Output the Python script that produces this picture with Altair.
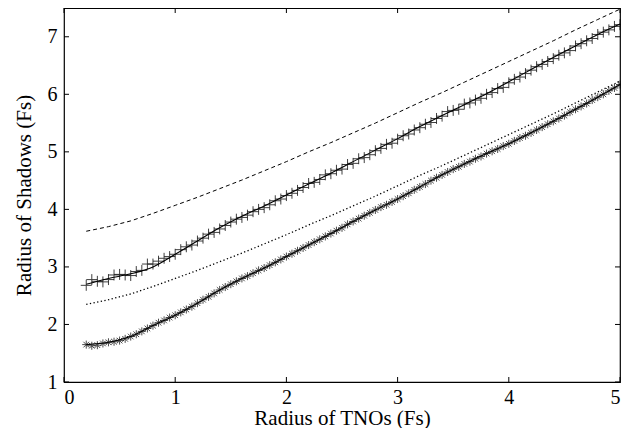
import altair as alt
import pandas as pd

# x grids (positions of the sampled radii)
x_fine = [round(0.2 + 0.05 * i, 2) for i in range(97)]
x_coarse = [round(0.2 + 0.2 * i, 1) for i in range(25)]

plus_pts = [2.68, 2.78, 2.75, 2.74, 2.78, 2.86, 2.87, 2.86, 2.85, 2.92,
            2.94, 3.05, 3.05, 3.10, 3.15, 3.18, 3.22, 3.30, 3.35, 3.38,
            3.45, 3.50, 3.57, 3.60, 3.66, 3.72, 3.78, 3.83, 3.86, 3.90,
            3.96, 4.00, 4.03, 4.08, 4.15, 4.18, 4.24, 4.28, 4.33, 4.38,
            4.45, 4.47, 4.52, 4.60, 4.62, 4.68, 4.70, 4.78, 4.80, 4.88,
            4.90, 4.95, 5.02, 5.06, 5.13, 5.15, 5.22, 5.28, 5.31, 5.38,
            5.42, 5.48, 5.51, 5.58, 5.62, 5.70, 5.72, 5.74, 5.83, 5.85,
            5.90, 5.93, 6.00, 6.03, 6.10, 6.12, 6.20, 6.26, 6.30, 6.36,
            6.42, 6.48, 6.52, 6.57, 6.62, 6.68, 6.72, 6.76, 6.84, 6.88,
            6.93, 6.97, 7.04, 7.08, 7.12, 7.18, 7.21]

star_pts = [1.65, 1.63, 1.64, 1.67, 1.69, 1.70, 1.72, 1.75, 1.79, 1.83,
            1.88, 1.93, 1.98, 2.03, 2.07, 2.12, 2.16, 2.21, 2.26, 2.31,
            2.37, 2.43, 2.48, 2.54, 2.60, 2.65, 2.70, 2.75, 2.80, 2.84,
            2.89, 2.94, 2.98, 3.03, 3.08, 3.13, 3.18, 3.23, 3.28, 3.33,
            3.38, 3.43, 3.48, 3.53, 3.58, 3.63, 3.68, 3.74, 3.79, 3.84,
            3.89, 3.94, 3.99, 4.04, 4.08, 4.13, 4.18, 4.23, 4.28, 4.34,
            4.39, 4.44, 4.50, 4.55, 4.60, 4.65, 4.70, 4.74, 4.79, 4.83,
            4.88, 4.92, 4.97, 5.01, 5.05, 5.10, 5.14, 5.19, 5.24, 5.28,
            5.33, 5.38, 5.43, 5.48, 5.53, 5.58, 5.63, 5.69, 5.74, 5.79,
            5.84, 5.90, 5.95, 6.00, 6.06, 6.11, 6.17]

plus_fit = [2.70, 2.80, 2.88, 3.00, 3.22, 3.45, 3.68, 3.88, 4.06, 4.25,
            4.44, 4.63, 4.83, 5.03, 5.23, 5.44, 5.63, 5.82, 6.01, 6.22,
            6.43, 6.64, 6.84, 7.04, 7.22]

star_fit = [1.65, 1.69, 1.79, 1.98, 2.16, 2.37, 2.60, 2.80, 2.98, 3.18,
            3.38, 3.58, 3.79, 3.99, 4.18, 4.39, 4.60, 4.79, 4.97, 5.14,
            5.33, 5.53, 5.74, 5.95, 6.17]

upper_dashed = [3.62, 3.70, 3.80, 3.93, 4.07, 4.21, 4.36, 4.51, 4.67, 4.83,
                5.00, 5.16, 5.33, 5.50, 5.68, 5.86, 6.03, 6.21, 6.39, 6.57,
                6.75, 6.93, 7.12, 7.30, 7.48]

lower_dotted = [2.35, 2.43, 2.53, 2.66, 2.80, 2.94, 3.09, 3.24, 3.40, 3.56,
                3.73, 3.89, 4.06, 4.23, 4.41, 4.59, 4.76, 4.94, 5.12, 5.30,
                5.48, 5.66, 5.85, 6.04, 6.23]

x_ticks = [0, 1, 2, 3, 4, 5]
y_ticks = [1, 2, 3, 4, 5, 6, 7]

W, H = 556, 374
FONT = "Liberation Serif"

xs = alt.Scale(domain=[0, 5], nice=False, zero=False)
ys = alt.Scale(domain=[1, 7.5], nice=False, zero=False)

pts = pd.DataFrame({"x": x_fine, "plus": plus_pts, "star": star_pts})
curves = pd.DataFrame({"x": x_coarse, "plus_fit": plus_fit, "star_fit": star_fit,
                       "dashed": upper_dashed, "dotted": lower_dotted})

XT = "Radius of TNOs (Fs)"
YT = "Radius of Shadows (Fs)"


def X(field="x"):
    return alt.X(f"{field}:Q", scale=xs,
                 axis=alt.Axis(values=x_ticks, format="d", labelPadding=5,
                               titlePadding=0),
                 title=XT)


def Y(field):
    return alt.Y(f"{field}:Q", scale=ys,
                 axis=alt.Axis(values=y_ticks, format="d", labelPadding=7,
                               titlePadding=13),
                 title=YT)


base = alt.Chart(curves)

dashed = base.mark_line(color="black", strokeWidth=1, strokeDash=[4, 3]).encode(
    x=X(), y=Y("dashed"))
dotted = base.mark_line(color="black", strokeWidth=1.3, strokeDash=[1.3, 2.4]).encode(
    x=X(), y=Y("dotted"))
plus_line = base.mark_line(color="black", strokeWidth=1.1, interpolate="monotone").encode(
    x=X(), y=Y("plus_fit"))
star_line = base.mark_line(color="black", strokeWidth=1.1, interpolate="monotone").encode(
    x=X(), y=Y("star_fit"))

plus_marks = alt.Chart(pts).mark_point(
    shape="M-1,0L1,0M0,-1L0,1", filled=False, stroke="black",
    strokeWidth=1, size=120, opacity=0.75
).encode(x=X(), y=Y("plus"))
star_marks = alt.Chart(pts).mark_point(
    shape="M-1,0L1,0M0,-1L0,1M-0.7,-0.7L0.7,0.7M-0.7,0.7L0.7,-0.7",
    filled=False, stroke="black", strokeWidth=1, size=65, opacity=0.7
).encode(x=X(), y=Y("star"))

xt = pd.DataFrame({"x": x_ticks})
yt = pd.DataFrame({"y": y_ticks})
tick_bottom = alt.Chart(xt).mark_rule(color="black", strokeWidth=1).encode(
    x=X(), y=alt.value(H), y2=alt.value(H - 5))
tick_top = alt.Chart(xt).mark_rule(color="black", strokeWidth=1).encode(
    x=X(), y=alt.value(0), y2=alt.value(5))
tick_left = alt.Chart(yt).mark_rule(color="black", strokeWidth=1).encode(
    y=Y("y"), x=alt.value(0), x2=alt.value(5))
tick_right = alt.Chart(yt).mark_rule(color="black", strokeWidth=1).encode(
    y=Y("y"), x=alt.value(W), x2=alt.value(W - 5))

chart = alt.layer(
    dashed, dotted, plus_line, star_line, plus_marks, star_marks,
    tick_bottom, tick_top, tick_left, tick_right
).properties(
    width=W, height=H,
    padding={"left": 56, "top": 0, "right": 1, "bottom": 46},
    autosize=alt.AutoSizeParams(type="none"),
    background="white",
).configure(
    font=FONT
).configure_axis(
    tickSize=0, domain=False, grid=False,
    labelFont=FONT, labelFontSize=20, labelColor="black",
    titleFont=FONT, titleFontSize=21, titleFontWeight="normal", titleColor="black",
).configure_view(stroke="black", strokeWidth=1.2)

chart.save("out.html", embed_options={"renderer": "svg", "actions": False})
